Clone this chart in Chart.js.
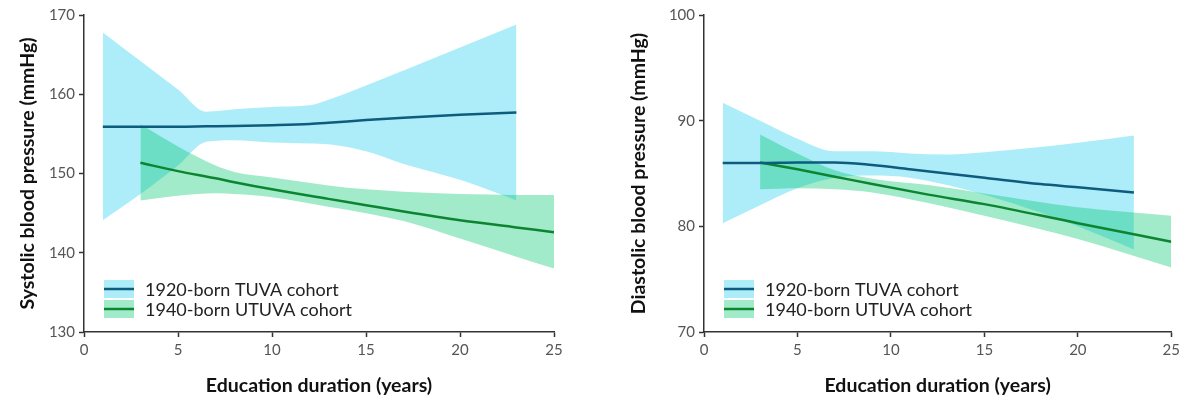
<!DOCTYPE html>
<html>
<head>
<meta charset="utf-8">
<script src="https://cdn.jsdelivr.net/npm/chart.js@4/dist/chart.umd.min.js"></script>
<style>
  html, body { margin: 0; padding: 0; background: #fff; }
  .wrap { display: flex; width: 1184px; height: 401px; }
  .panel { width: 592px; height: 401px; }
</style>
</head>
<body>
<div class="wrap">
  <div class="panel"><canvas id="sysChart" width="592" height="401"></canvas></div>
  <div class="panel"><canvas id="diaChart" width="592" height="401"></canvas></div>
</div>
<script>
// legend labels
const cohortNames = ['1920-born TUVA cohort', '1940-born UTUVA cohort'];
const xTicks = [0, 5, 10, 15, 20, 25];

// systolic, 1920-born TUVA
const sysTuvaX = [1, 3, 5, 6.5, 8, 10, 12, 13, 15, 17, 20, 23];
const sysTuvaLine = [155.9, 155.9, 155.9, 155.95, 156.0, 156.1, 156.25, 156.4, 156.75, 157.05, 157.4, 157.7];
const sysTuvaUpper = [167.8, 164.2, 160.6, 157.8, 158.1, 158.4, 158.6, 159.3, 161.1, 163.0, 165.9, 168.8];
const sysTuvaLower = [144.1, 147.4, 151.0, 154.0, 154.2, 153.9, 153.8, 153.7, 152.8, 151.2, 149.2, 146.6];

// systolic, 1940-born UTUVA
const sysUtuvaX = [3, 5, 7, 8, 10, 13, 15, 17, 20, 23, 25];
const sysUtuvaLine = [151.35, 150.3, 149.4, 148.9, 148.0, 146.8, 146.0, 145.2, 144.1, 143.2, 142.6];
const sysUtuvaUpper = [156.2, 153.4, 151.0, 150.2, 149.5, 148.5, 148.0, 147.7, 147.4, 147.3, 147.3];
const sysUtuvaLower = [146.6, 147.2, 147.5, 147.4, 147.0, 145.8, 145.0, 144.0, 141.8, 139.5, 138.0];

// diastolic, 1920-born TUVA
const diaTuvaX = [1, 3, 5, 7, 9, 11, 13, 15, 18, 20, 23];
const diaTuvaLine = [86.0, 86.0, 86.05, 86.05, 85.8, 85.4, 85.0, 84.6, 84.0, 83.7, 83.2];
const diaTuvaUpper = [91.7, 90.0, 88.3, 87.1, 87.1, 86.9, 86.8, 87.0, 87.5, 87.9, 88.6];
const diaTuvaLower = [80.3, 82.0, 83.6, 84.6, 84.8, 84.6, 83.9, 83.0, 81.3, 80.0, 77.8];

// diastolic, 1940-born UTUVA
const diaUtuvaX = [3, 5, 7, 9, 12, 15, 20, 25];
const diaUtuvaLine = [86.05, 85.4, 84.7, 84.0, 83.0, 82.1, 80.3, 78.55];
const diaUtuvaUpper = [88.7, 86.9, 85.3, 84.5, 83.9, 83.1, 81.8, 81.0];
const diaUtuvaLower = [83.5, 83.6, 83.5, 83.2, 82.2, 81.0, 78.8, 76.1];

const TUVA_LINE = '#0d5b7d';
const UTUVA_LINE = '#0c8530';
const TUVA_BAND = '#adedf9';
const UTUVA_BAND = 'rgba(0, 198, 110, 0.37)';
const FONT = 'Lato, "Open Sans", sans-serif';

const pts = (xs, ys) => xs.map((x, i) => ({ x: x, y: ys[i] }));

function lineSet(xs, ys, color) {
  return {
    data: pts(xs, ys), borderColor: color, borderWidth: 2.5,
    pointRadius: 0, fill: false, cubicInterpolationMode: 'monotone'
  };
}
function bandSet(xs, ys, color, fill) {
  return {
    data: pts(xs, ys), borderWidth: 0, borderColor: 'rgba(0,0,0,0)',
    backgroundColor: color, pointRadius: 0, fill: fill,
    cubicInterpolationMode: 'monotone'
  };
}

const bandLegend = {
  id: 'bandLegend',
  afterDraw(chart) {
    const { ctx, chartArea } = chart;
    const x0 = chartArea.left + 20;
    const rows = [[TUVA_BAND, TUVA_LINE], [UTUVA_BAND, UTUVA_LINE]];
    ctx.save();
    rows.forEach((r, i) => {
      const top = chartArea.bottom - 52 + i * 20;
      ctx.fillStyle = r[0];
      ctx.fillRect(x0, top, 30, 18);
      ctx.strokeStyle = r[1];
      ctx.lineWidth = 2.5;
      ctx.beginPath();
      ctx.moveTo(x0, top + 9);
      ctx.lineTo(x0 + 30, top + 9);
      ctx.stroke();
      ctx.fillStyle = '#222';
      ctx.font = '18px ' + FONT;
      ctx.textBaseline = 'middle';
      ctx.fillText(cohortNames[i], x0 + 41, top + 10);
    });
    ctx.restore();
  }
};

function makeChart(id, cfg) {
  new Chart(document.getElementById(id), {
    type: 'line',
    data: {
      datasets: [
        lineSet(cfg.tuvaX, cfg.tuvaLine, TUVA_LINE),
        lineSet(cfg.utuvaX, cfg.utuvaLine, UTUVA_LINE),
        bandSet(cfg.utuvaX, cfg.utuvaUpper, UTUVA_BAND, '+1'),
        bandSet(cfg.utuvaX, cfg.utuvaLower, UTUVA_BAND, false),
        bandSet(cfg.tuvaX, cfg.tuvaUpper, TUVA_BAND, '+1'),
        bandSet(cfg.tuvaX, cfg.tuvaLower, TUVA_BAND, false)
      ]
    },
    options: {
      responsive: false,
      animation: false,
      devicePixelRatio: 1,
      layout: { padding: { left: 0, right: cfg.padRight, top: 15, bottom: 0 } },
      plugins: {
        legend: { display: false },
        tooltip: { enabled: false }
      },
      scales: {
        x: {
          type: 'linear', min: 0, max: 25,
          afterBuildTicks: s => { s.ticks = xTicks.map(v => ({ value: v })); },
          afterFit: s => { s.height = 69; },
          border: { display: true, color: '#333', width: 1.5 },
          grid: { drawOnChartArea: false, drawTicks: true, tickLength: 5, color: '#333', tickWidth: 1.5 },
          ticks: { color: '#555', font: { family: FONT, size: 15 }, padding: 4, maxRotation: 0 },
          title: {
            display: true, text: 'Education duration (years)', color: '#111',
            font: { family: FONT, size: 19.5, weight: 'bold' }, padding: { top: 0, bottom: 4 }
          }
        },
        y: {
          min: cfg.yMin, max: cfg.yMax,
          afterBuildTicks: s => { s.ticks = cfg.yTicks.map(v => ({ value: v })); },
          afterFit: s => { s.width = cfg.yWidth; },
          border: { display: true, color: '#333', width: 1.5 },
          grid: { drawOnChartArea: false, drawTicks: true, tickLength: 5, color: '#333', tickWidth: 1.5 },
          ticks: { color: '#555', font: { family: FONT, size: 15 }, padding: 4 },
          title: {
            display: true, text: cfg.yTitle, color: '#111',
            font: { family: FONT, size: 19.5, weight: 'bold' }, padding: { top: cfg.titlePad, bottom: 0 }
          }
        }
      }
    },
    plugins: [bandLegend]
  });
}

makeChart('sysChart', {
  tuvaX: sysTuvaX, tuvaLine: sysTuvaLine, tuvaUpper: sysTuvaUpper, tuvaLower: sysTuvaLower,
  utuvaX: sysUtuvaX, utuvaLine: sysUtuvaLine, utuvaUpper: sysUtuvaUpper, utuvaLower: sysUtuvaLower,
  yMin: 130, yMax: 170, yTicks: [130, 140, 150, 160, 170],
  yTitle: 'Systolic blood pressure (mmHg)', yWidth: 84, padRight: 38, titlePad: 16
});

makeChart('diaChart', {
  tuvaX: diaTuvaX, tuvaLine: diaTuvaLine, tuvaUpper: diaTuvaUpper, tuvaLower: diaTuvaLower,
  utuvaX: diaUtuvaX, utuvaLine: diaUtuvaLine, utuvaUpper: diaUtuvaUpper, utuvaLower: diaUtuvaLower,
  yMin: 70, yMax: 100, yTicks: [70, 80, 90, 100],
  yTitle: 'Diastolic blood pressure (mmHg)', yWidth: 112, padRight: 10, titlePad: 35
});
</script>
</body>
</html>
